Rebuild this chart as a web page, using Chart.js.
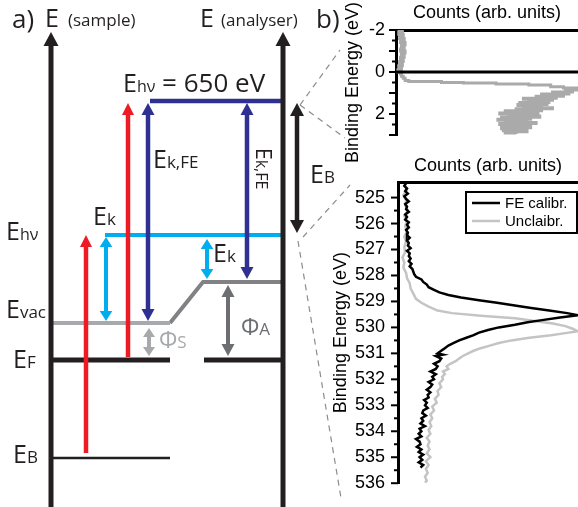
<!DOCTYPE html>
<html>
<head>
<meta charset="utf-8">
<script src="https://cdn.jsdelivr.net/npm/chart.js@4.4.1/dist/chart.umd.min.js"></script>
<style>
  body { margin: 0; background: #fff; }
  #wrap { position: relative; width: 578px; height: 507px; overflow: hidden; }
  canvas { position: absolute; }
</style>
</head>
<body>
<div id="wrap">
  <canvas id="diagram" width="578" height="507" style="left:0;top:0"></canvas>
  <canvas id="vb" width="248" height="170" style="left:330px;top:0"></canvas>
  <canvas id="o1s" width="248" height="357" style="left:330px;top:150px"></canvas>
</div>
<script>
// ---------- panel a: energy diagram (diagram units, y counted downwards) ----------
const levelNames = ['hv', 'kin', 'vacS', 'vacA', 'fermiS', 'fermiA', 'core'];
const levelXs = [[150, 283], [105, 283], [52, 170], [170, 203, 283], [52, 170], [204, 283], [52, 170]];
const levelYs = [[101, 101], [235, 235], [323, 323], [323, 282, 282], [360, 360], [360, 360], [458, 458]];

const arrowNames = ['axisS', 'axisA', 'photonCore', 'photonFE', 'kinFE', 'kinFEA', 'kin', 'kinA', 'phiS', 'phiA', 'bind'];
const arrowX = [51, 283, 86, 128, 148, 247, 106, 207, 149, 228, 297];
const arrowTop = [32, 32, 235, 103, 103, 103, 237, 239, 328, 285, 103];
const arrowBottom = [507, 507, 453, 357, 321, 279, 321, 279, 356, 356, 233];
const arrowHeads = ['up', 'up', 'up', 'up', 'both', 'both', 'both', 'both', 'both', 'both', 'both'];

// dashed guides from the diagram to panel b
const guideXs = [[300, 340], [300, 345], [303, 350], [298, 341]];
const guideYs = [[105, 50], [105, 138], [237, 185], [241, 498]];

// ---------- panel b, top: valence band ----------
const vbEnergy = [-2.0, -1.9, -1.8, -1.7, -1.6, -1.5, -1.4, -1.3, -1.2, -1.1, -1.0, -0.9, -0.8, -0.7, -0.6, -0.5, -0.4, -0.3, -0.2, -0.1,
  0.0, 0.1, 0.2, 0.3, 0.4, 0.45, 0.5, 0.52, 0.57, 0.62, 0.7, 0.76, 0.86, 0.9, 0.95, 1.0, 1.05, 1.1, 1.15, 1.2, 1.25, 1.3, 1.35,
  1.4, 1.45, 1.5, 1.55, 1.6, 1.65, 1.7, 1.75, 1.8, 1.85, 1.9, 1.95, 2.0, 2.05, 2.1, 2.15, 2.2, 2.25, 2.3, 2.35, 2.4, 2.45,
  2.5, 2.55, 2.6, 2.65, 2.7, 2.75, 2.8, 2.85, 2.9, 2.95];
const vbCounts = [0.01, 0.035, 0.015, 0.04, 0.02, 0.045, 0.025, 0.05, 0.03, 0.045, 0.025, 0.05, 0.03, 0.045, 0.025, 0.04, 0.02, 0.035, 0.015, 0.03,
  0.01, 0.025, 0.03, 0.04, 0.05, 0.07, 0.25, 0.37, 0.55, 0.73, 0.85, 0.92, 1.0, 0.93, 0.97, 0.86, 0.95, 0.8, 0.92, 0.77, 0.88, 0.7, 0.86,
  0.73, 0.84, 0.68, 0.83, 0.67, 0.8, 0.7, 0.86, 0.66, 0.8, 0.6, 0.78, 0.57, 0.76, 0.62, 0.79, 0.58, 0.74, 0.56, 0.72, 0.6, 0.77,
  0.57, 0.7, 0.58, 0.74, 0.58, 0.68, 0.59, 0.72, 0.6, 0.66];
const vbTicks = [-2, -1.5, -1, -0.5, 0, 0.5, 1, 1.5, 2, 2.5, 3];
const vbTickLabels = [-2, 0, 2];

// ---------- panel b, bottom: O 1s ----------
const feEnergy = [524.45, 524.55, 524.65, 524.75, 524.85, 524.95, 525.05, 525.15, 525.25, 525.35, 525.45, 525.55, 525.65, 525.75, 525.85, 525.95,
  526.05, 526.15, 526.25, 526.35, 526.45, 526.55, 526.65, 526.75, 526.85, 526.95, 527.05, 527.15, 527.25, 527.35, 527.45, 527.55,
  527.65, 527.75, 527.85, 527.95, 528.05, 528.15, 528.25, 528.35, 528.45, 528.55, 528.65, 528.75, 528.85, 528.95, 529.05, 529.15,
  529.25, 529.35, 529.45, 529.53, 529.62, 529.72, 529.8, 529.9, 530.0, 530.1, 530.2, 530.3, 530.4, 530.5, 530.6, 530.7, 530.8, 530.9,
  531.0, 531.05, 531.1, 531.2, 531.3, 531.4, 531.5, 531.6, 531.7, 531.8, 531.9, 532.0, 532.1, 532.2, 532.3, 532.4, 532.5, 532.6,
  532.7, 532.8, 532.9, 533.0, 533.1, 533.2, 533.3, 533.4, 533.5, 533.6, 533.7, 533.8, 533.9, 534.0, 534.1, 534.2, 534.3, 534.4,
  534.5, 534.6, 534.7, 534.8, 534.9, 535.0, 535.1, 535.2, 535.3, 535.4];
const feCounts = [0.045, 0.035, 0.05, 0.04, 0.055, 0.035, 0.045, 0.06, 0.04, 0.05, 0.045, 0.06, 0.04, 0.05, 0.04, 0.06,
  0.05, 0.06, 0.045, 0.055, 0.05, 0.065, 0.05, 0.06, 0.055, 0.07, 0.05, 0.065, 0.06, 0.07, 0.06, 0.075,
  0.065, 0.08, 0.085, 0.09, 0.1, 0.13, 0.14, 0.16, 0.17, 0.2, 0.23, 0.28, 0.35, 0.45, 0.55, 0.64,
  0.74, 0.84, 0.94, 1.0, 0.9, 0.8, 0.72, 0.65, 0.56, 0.5, 0.45, 0.42, 0.38, 0.34, 0.31, 0.28, 0.26, 0.24,
  0.22, 0.25, 0.21, 0.24, 0.23, 0.2, 0.22, 0.21, 0.18, 0.21, 0.19, 0.2, 0.17, 0.19, 0.18, 0.16, 0.18, 0.165,
  0.17, 0.145, 0.16, 0.15, 0.165, 0.14, 0.135, 0.155, 0.13, 0.14, 0.125, 0.15, 0.12, 0.13, 0.115, 0.13, 0.1, 0.12,
  0.125, 0.105, 0.13, 0.115, 0.14, 0.12, 0.135, 0.115, 0.14, 0.125];

const unEnergy = [524.5, 524.7, 524.9, 525.1, 525.3, 525.5, 525.7, 525.9, 526.1, 526.3, 526.5, 526.7, 526.9, 527.1, 527.3, 527.5,
  527.7, 527.9, 528.1, 528.3, 528.5, 528.7, 528.9, 529.05, 529.2, 529.35, 529.45, 529.55, 529.65, 529.75, 529.85, 529.95,
  530.05, 530.15, 530.22, 530.3, 530.4, 530.5, 530.6, 530.7, 530.8, 530.9, 531.0, 531.1, 531.2, 531.3, 531.4, 531.5,
  531.6, 531.7, 531.8, 531.9, 532.0, 532.15, 532.3, 532.45, 532.6, 532.75, 532.9, 533.05, 533.2, 533.35, 533.5, 533.65,
  533.8, 533.95, 534.1, 534.25, 534.4, 534.55, 534.7, 534.85, 535.0, 535.15, 535.3, 535.45, 535.6, 535.75, 535.9, 535.98];
const unCounts = [0.035, 0.05, 0.03, 0.045, 0.04, 0.055, 0.035, 0.05, 0.04, 0.05, 0.035, 0.045, 0.035, 0.04, 0.025, 0.035,
  0.03, 0.045, 0.05, 0.065, 0.07, 0.085, 0.1, 0.13, 0.17, 0.22, 0.3, 0.46, 0.65, 0.76, 0.86, 0.93,
  0.97, 1.0, 0.93, 0.85, 0.73, 0.63, 0.56, 0.51, 0.46, 0.42, 0.39, 0.36, 0.34, 0.32, 0.29, 0.27,
  0.28, 0.25, 0.26, 0.245, 0.25, 0.23, 0.24, 0.22, 0.225, 0.205, 0.215, 0.19, 0.2, 0.18, 0.19, 0.175,
  0.185, 0.17, 0.18, 0.16, 0.175, 0.165, 0.175, 0.16, 0.18, 0.155, 0.17, 0.155, 0.165, 0.15, 0.16, 0.15];
const o1sTicks = [525, 525.5, 526, 526.5, 527, 527.5, 528, 528.5, 529, 529.5, 530, 530.5, 531, 531.5, 532, 532.5,
  533, 533.5, 534, 534.5, 535, 535.5, 536];

// ---------- styles ----------
const INK = '#231f20';
const DFONT = '"Open Sans", sans-serif';
const levelStyle = {
  hv: ['#2e3192', 4.5], kin: ['#00aeef', 4], vacS: ['#a7a9ac', 4], vacA: ['#808285', 4],
  fermiS: [INK, 5], fermiA: [INK, 5], core: [INK, 2.5]
};
const arrowStyle = {
  axisS: { color: INK, width: 5, head: 14, half: 7.5 },
  axisA: { color: INK, width: 5, head: 14, half: 7.5 },
  photonCore: { color: '#ed1c24', width: 4.5, head: 12, half: 6 },
  photonFE: { color: '#ed1c24', width: 4.5, head: 12, half: 6 },
  kinFE: { color: '#2e3192', width: 4.5, head: 12, half: 6.5 },
  kinFEA: { color: '#2e3192', width: 4.5, head: 12, half: 6.5 },
  kin: { color: '#00aeef', width: 4, head: 10, half: 6.3 },
  kinA: { color: '#00aeef', width: 4, head: 10, half: 6.3 },
  phiS: { color: '#a7a9ac', width: 4, head: 9, half: 6 },
  phiA: { color: '#6d6e71', width: 4, head: 12, half: 6.5 },
  bind: { color: INK, width: 4.5, head: 13, half: 7 }
};

const diagramLabels = [
  { main: 'a)', x: 12, y: 28, size: 26 },
  { main: 'E', x: 45, y: 27, size: 25 },
  { main: '(sample)', x: 68, y: 26, size: 17 },
  { main: 'E', x: 200, y: 27, size: 25 },
  { main: '(analyser)', x: 221, y: 26, size: 17 },
  { main: 'b)', x: 316, y: 28, size: 26 },
  { main: 'E', sub: 'hν', tail: ' = 650 eV', x: 123, y: 92, size: 25, subSize: 16, tailSize: 26 },
  { main: 'E', sub: 'k,FE', x: 153, y: 168, size: 25, subSize: 17 },
  { main: 'E', sub: 'k,FE', x: 256, y: 148, size: 21, subSize: 16, rot: Math.PI / 2 },
  { main: 'E', sub: 'B', x: 310, y: 183, size: 25, subSize: 17 },
  { main: 'E', sub: 'k', x: 93, y: 225, size: 25, subSize: 17 },
  { main: 'E', sub: 'hν', x: 6, y: 240, size: 25, subSize: 16 },
  { main: 'E', sub: 'k', x: 213, y: 262, size: 25, subSize: 17 },
  { main: 'E', sub: 'vac', x: 6, y: 318, size: 25, subSize: 17 },
  { main: 'Φ', sub: 'S', x: 159, y: 348, size: 23, subSize: 17, color: '#a7a9ac' },
  { main: 'Φ', sub: 'A', x: 241, y: 335, size: 23, subSize: 17, color: '#6d6e71' },
  { main: 'E', sub: 'F', x: 13, y: 368, size: 25, subSize: 17 },
  { main: 'E', sub: 'B', x: 13, y: 463, size: 25, subSize: 17 }
];

Chart.defaults.font.family = '"Liberation Sans", Arial, sans-serif';
Chart.defaults.color = '#000';

// arrows with heads, drawn through the diagram scales
const arrowPlugin = {
  id: 'arrows',
  afterDatasetsDraw(chart) {
    const { ctx, scales: { x, y } } = chart;
    arrowNames.forEach((name, i) => {
      const st = arrowStyle[name];
      const px = x.getPixelForValue(arrowX[i]);
      const top = y.getPixelForValue(arrowTop[i]);
      const bot = y.getPixelForValue(arrowBottom[i]);
      const up = arrowHeads[i] !== 'down';
      const down = arrowHeads[i] !== 'up';
      ctx.save();
      ctx.strokeStyle = st.color;
      ctx.fillStyle = st.color;
      ctx.lineWidth = st.width;
      ctx.beginPath();
      ctx.moveTo(px, up ? top + st.head - 1 : top);
      ctx.lineTo(px, down ? bot - st.head + 1 : bot);
      ctx.stroke();
      const tri = (tip, dir) => {
        ctx.beginPath();
        ctx.moveTo(px, tip);
        ctx.lineTo(px - st.half, tip + dir * st.head);
        ctx.lineTo(px + st.half, tip + dir * st.head);
        ctx.closePath();
        ctx.fill();
      };
      if (up) tri(top, 1);
      if (down) tri(bot, -1);
      ctx.restore();
    });
  }
};

// text labels with subscripts
const labelPlugin = {
  id: 'labels',
  afterDatasetsDraw(chart) {
    const { ctx, scales: { x, y } } = chart;
    diagramLabels.forEach(l => {
      ctx.save();
      ctx.translate(x.getPixelForValue(l.x), y.getPixelForValue(l.y));
      if (l.rot) ctx.rotate(l.rot);
      ctx.fillStyle = l.color || INK;
      ctx.textBaseline = 'alphabetic';
      ctx.font = l.size + 'px ' + DFONT;
      ctx.fillText(l.main, 0, 0);
      let w = ctx.measureText(l.main).width;
      if (l.sub) {
        ctx.font = l.subSize + 'px ' + DFONT;
        ctx.fillText(l.sub, w, 0);
        w += ctx.measureText(l.sub).width;
      }
      if (l.tail) {
        ctx.font = l.tailSize + 'px ' + DFONT;
        ctx.fillText(l.tail, w, 0);
      }
      ctx.restore();
    });
  }
};

const diagramSets = levelNames.map((name, i) => ({
  data: levelXs[i].map((v, j) => ({ x: v, y: levelYs[i][j] })),
  showLine: true,
  borderColor: levelStyle[name][0],
  borderWidth: levelStyle[name][1],
  borderCapStyle: 'butt',
  pointRadius: 0
})).concat(guideXs.map((xs, i) => ({
  data: xs.map((v, j) => ({ x: v, y: guideYs[i][j] })),
  showLine: true,
  borderColor: '#8c8c8c',
  borderWidth: 1.2,
  borderDash: [6, 5],
  pointRadius: 0
})));

new Chart(document.getElementById('diagram'), {
  type: 'scatter',
  data: { datasets: diagramSets },
  options: {
    responsive: false,
    animation: false,
    devicePixelRatio: 1,
    layout: { padding: 0 },
    plugins: { legend: { display: false }, tooltip: { enabled: false } },
    scales: {
      x: { display: false, min: 0, max: 578 },
      y: { display: false, min: 0, max: 507, reverse: true }
    }
  },
  plugins: [arrowPlugin, labelPlugin]
});

// outside tick marks, long on whole numbers
const tickMarks = {
  id: 'tickMarks',
  afterDraw(chart) {
    const s = chart.scales.y, ctx = chart.ctx;
    ctx.save();
    ctx.strokeStyle = '#000';
    ctx.lineWidth = 2;
    s.ticks.forEach(t => {
      const py = s.getPixelForValue(t.value);
      const len = Number.isInteger(t.value) ? 7 : 4;
      ctx.beginPath();
      ctx.moveTo(s.right - len, py);
      ctx.lineTo(s.right, py);
      ctx.stroke();
    });
    ctx.restore();
  }
};

// boxed legend in the upper right corner
const boxLegend = {
  id: 'boxLegend',
  afterDraw(chart) {
    const { ctx, chartArea: a } = chart;
    const x0 = a.right - 112, y0 = a.top + 10;
    ctx.save();
    ctx.fillStyle = '#fff';
    ctx.fillRect(x0, y0, 111, 41);
    ctx.lineWidth = 2;
    ctx.strokeStyle = '#000';
    ctx.strokeRect(x0, y0, 111, 41);
    chart.data.datasets.forEach((ds, i) => {
      const yy = y0 + 11 + i * 18;
      ctx.strokeStyle = ds.borderColor;
      ctx.lineWidth = 2.5;
      ctx.beginPath();
      ctx.moveTo(x0 + 6, yy);
      ctx.lineTo(x0 + 34, yy);
      ctx.stroke();
      ctx.fillStyle = '#000';
      ctx.font = '15px "Liberation Sans", Arial, sans-serif';
      ctx.textBaseline = 'middle';
      ctx.fillText(ds.label, x0 + 39, yy + 1);
    });
    ctx.restore();
  }
};

function plotOptions(cfg) {
  return {
    responsive: false,
    animation: false,
    devicePixelRatio: 1,
    layout: { padding: { bottom: cfg.padBottom } },
    plugins: { legend: { display: false }, tooltip: { enabled: false } },
    scales: {
      x: {
        position: 'top', min: 0, max: 1,
        afterFit: s => { s.height = cfg.topHeight; },
        ticks: { display: false },
        grid: { display: false, drawTicks: false },
        border: { color: '#000', width: 3 },
        title: { display: true, text: 'Counts (arb. units)', font: { size: 18 }, padding: { top: cfg.titleTop, bottom: 0 } }
      },
      y: {
        reverse: true, min: cfg.min, max: cfg.max,
        afterFit: s => { s.width = cfg.leftWidth; },
        afterBuildTicks: s => { s.ticks = cfg.ticks.map(v => ({ value: v })); },
        ticks: { autoSkip: false, padding: cfg.tickPad, font: { size: 18 }, callback: cfg.label },
        grid: { display: false, drawTicks: false },
        border: { color: '#000', width: 3 },
        title: { display: true, text: 'Binding Energy (eV)', font: { size: 18 }, padding: { top: cfg.yTitleTop, bottom: 0 } }
      }
    }
  };
}

new Chart(document.getElementById('vb'), {
  type: 'scatter',
  data: {
    datasets: [
      { label: 'FE calibr.', data: [{ x: 0, y: 0 }, { x: 1, y: 0 }], showLine: true, borderColor: '#000', borderWidth: 3, pointRadius: 0 },
      { label: 'Unclaibr.', data: vbEnergy.map((e, i) => ({ x: vbCounts[i], y: e })), showLine: true, stepped: true,
        borderColor: '#aaaaaa', borderWidth: 3, pointRadius: 0 }
    ]
  },
  options: plotOptions({
    padBottom: 35, topHeight: 30, titleTop: 2, leftWidth: 66, yTitleTop: 12, tickPad: 11,
    min: -2, max: 3, ticks: vbTicks, label: v => vbTickLabels.includes(v) ? String(v) : ''
  }),
  plugins: [tickMarks]
});

new Chart(document.getElementById('o1s'), {
  type: 'scatter',
  data: {
    datasets: [
      { label: 'FE calibr.', data: feEnergy.map((e, i) => ({ x: feCounts[i], y: e })), showLine: true,
        borderColor: '#000', borderWidth: 2.5, pointRadius: 0 },
      { label: 'Unclaibr.', data: unEnergy.map((e, i) => ({ x: unCounts[i], y: e })), showLine: true,
        borderColor: '#c4c4c4', borderWidth: 2.5, pointRadius: 0 }
    ]
  },
  options: plotOptions({
    padBottom: 13, topHeight: 32, titleTop: 5, leftWidth: 68, yTitleTop: 0, tickPad: 13,
    min: 524.4, max: 536, ticks: o1sTicks, label: v => Number.isInteger(v) ? String(v) : ''
  }),
  plugins: [tickMarks, boxLegend]
});
</script>
</body>
</html>
